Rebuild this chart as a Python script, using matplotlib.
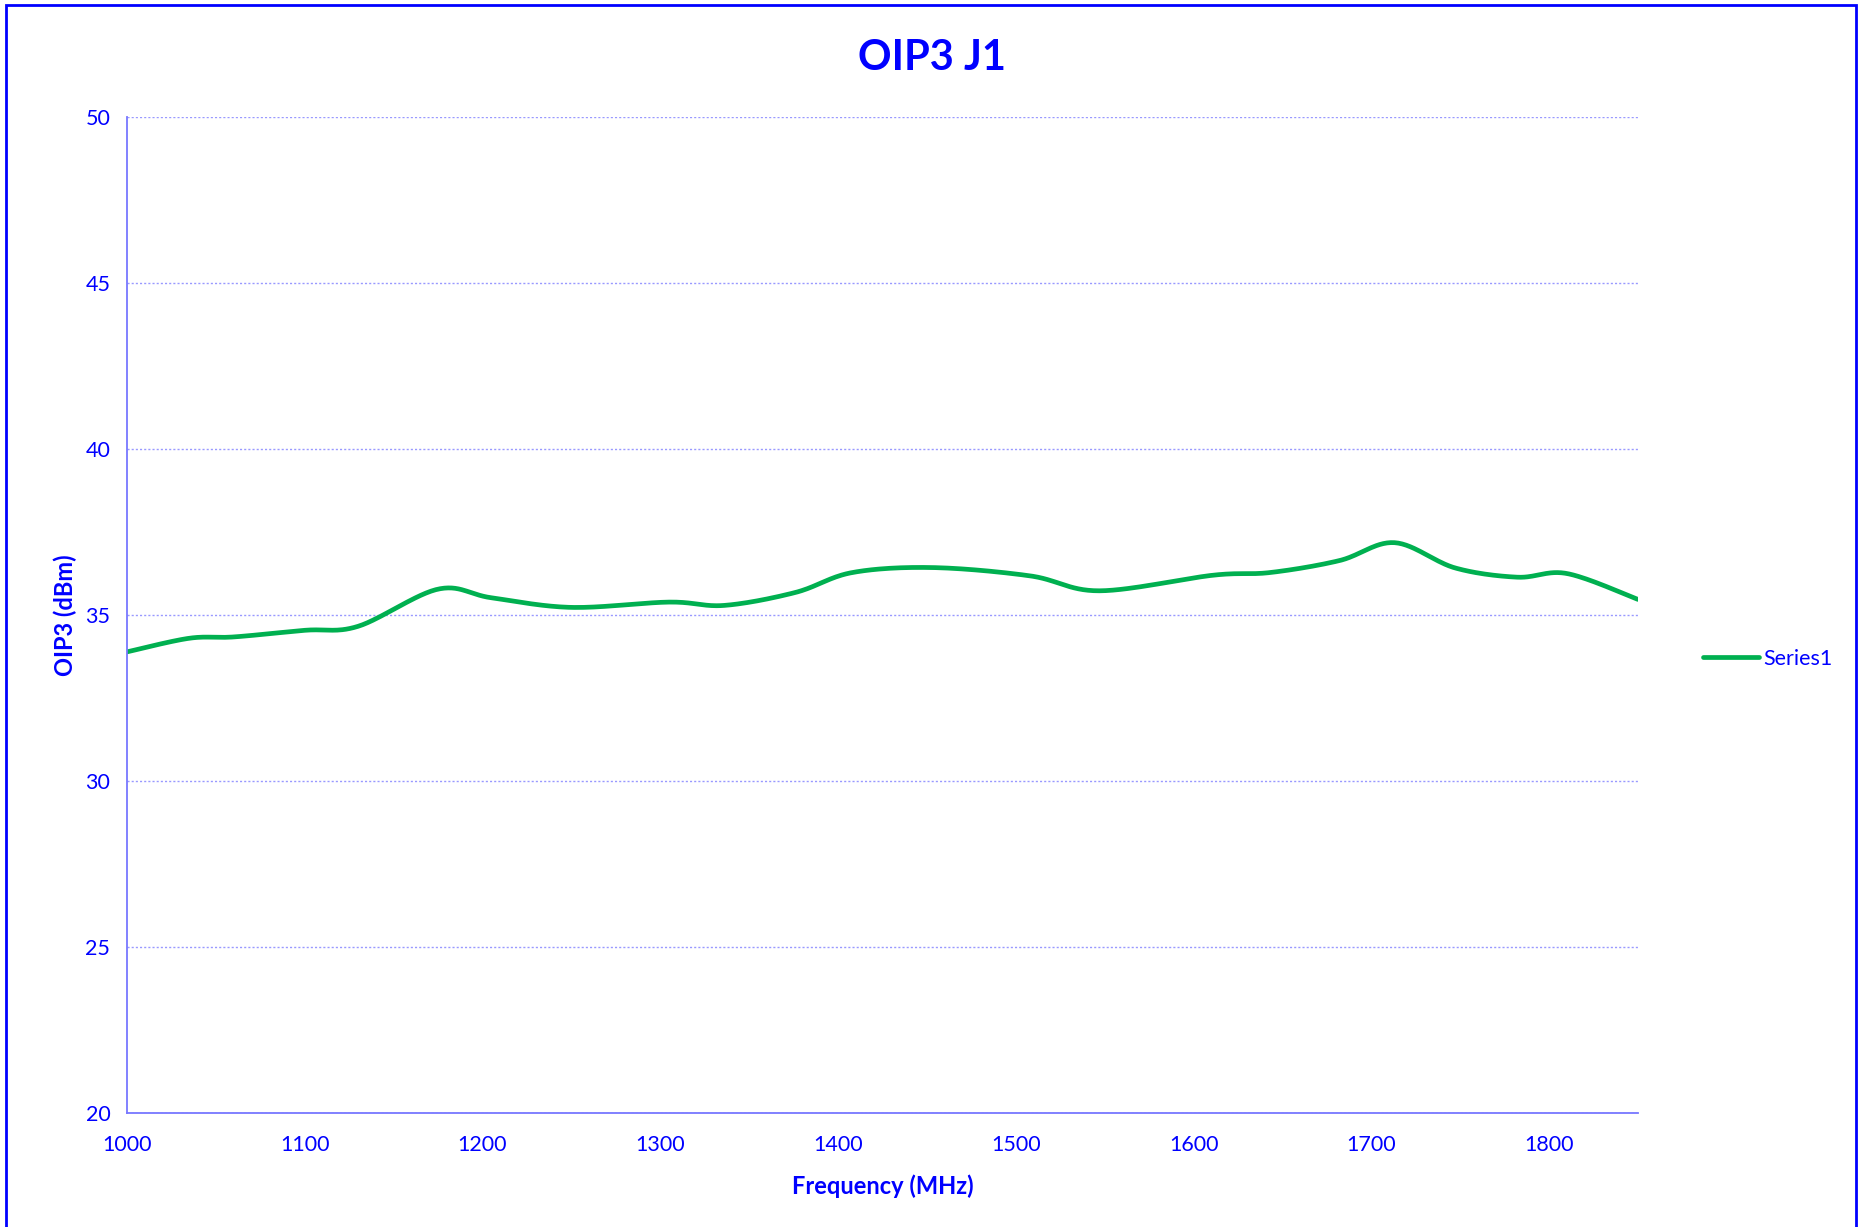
import numpy as np
import matplotlib
matplotlib.use("Agg")
from matplotlib import pyplot as plt
from matplotlib.patches import Rectangle

# valeurs
freq = [1000, 1035, 1060, 1100, 1130, 1175, 1205, 1250, 1305, 1336, 1376, 1408,
        1453, 1508, 1547, 1611, 1643, 1682, 1713, 1747, 1782, 1810, 1850]
oip3 = [33.89, 34.30, 34.34, 34.54, 34.66, 35.78, 35.52, 35.23, 35.39, 35.29, 35.68, 36.28,
        36.43, 36.18, 35.73, 36.20, 36.28, 36.64, 37.18, 36.42, 36.14, 36.25, 35.47]
yticks = [20, 25, 30, 35, 40, 45, 50]
xticks = [1000, 1100, 1200, 1300, 1400, 1500, 1600, 1700, 1800]

blue = "#0000FF"
green = "#00B050"


# lissage type Excel (Catmull-Rom)
def lisser(x, y, n=30):
    p = np.column_stack([x, y]).astype(float)
    p = np.vstack([p[0], p, p[-1]])
    out = []
    t = np.linspace(0, 1, n, endpoint=False)[:, None]
    for i in range(1, len(p) - 2):
        p0, p1, p2, p3 = p[i - 1], p[i], p[i + 1], p[i + 2]
        c1 = p1 + (p2 - p0) / 6
        c2 = p2 - (p3 - p1) / 6
        seg = ((1 - t) ** 3) * p1 + 3 * ((1 - t) ** 2) * t * c1 + 3 * (1 - t) * t ** 2 * c2 + t ** 3 * p2
        out.append(seg)
    out.append(p[-2][None, :])
    out = np.vstack(out)
    return out[:, 0], out[:, 1]


plt.rcParams["font.family"] = ["Lato", "DejaVu Sans"]
fig = plt.figure(figsize=(18.64, 12.27), dpi=100)
ax = fig.add_axes([0.0681, 0.0929, 0.8107, 0.8117])

xs, ys = lisser(freq, oip3)
ax.plot(xs, ys, color=green, lw=3.4, label="Series1", solid_capstyle="round")

ax.set_xlim(1000, 1850)
ax.set_ylim(20, 50)
ax.set_xticks(xticks)
ax.set_yticks(yticks)
ax.tick_params(length=0, colors=blue, labelsize=15.5)
ax.tick_params(axis="x", pad=16)
ax.tick_params(axis="y", pad=12)
ax.grid(axis="y", color="#9999FF", ls=(0, (1.5, 1.5)), lw=1)
for s in ["top", "right"]:
    ax.spines[s].set_visible(False)
for s in ["left", "bottom"]:
    ax.spines[s].set_color("#7777FF")
    ax.spines[s].set_linewidth(1.3)

# titre centre sur la figure
fig.text(0.5, 0.953, "OIP3 J1", color=blue, fontsize=30, fontweight="bold",
         ha="center", va="center")
ax.set_xlabel("Frequency (MHz)", color=blue, fontsize=17, fontweight="bold", labelpad=14)
ax.set_ylabel("OIP3 (dBm)", color=blue, fontsize=17, fontweight="bold", labelpad=6)

leg = ax.legend(loc="center left", bbox_to_anchor=(1.03, 0.456), frameon=False,
                fontsize=15.5, handlelength=2.6, handletextpad=0.2, labelcolor=blue)

# cadre exterieur
fig.patches.append(Rectangle((6 / 1864, -0.01), 1850 / 1864, 1 - 5 / 1227 + 0.01,
                             transform=fig.transFigure, fill=False, edgecolor=blue, lw=2))

fig.savefig("out.png", dpi=100)
